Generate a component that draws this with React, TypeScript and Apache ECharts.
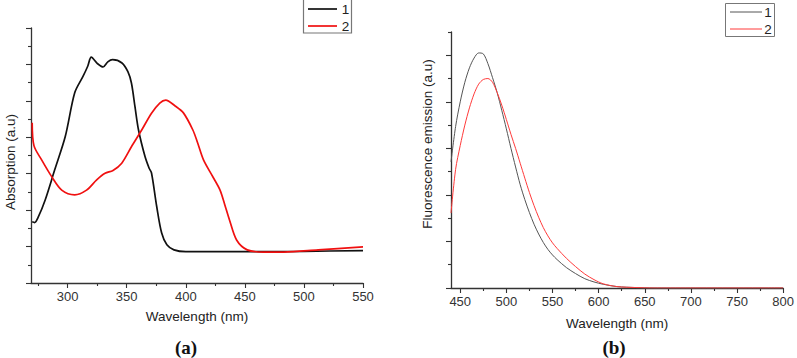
import React, { useEffect, useRef } from "react";
import * as echarts from "echarts";

// (a) absorption spectra
const absWavelength1 = [270, 272, 275, 281, 289, 298, 306, 313, 317, 320, 325, 330, 334, 338, 346, 351, 354, 357, 360, 365.5, 369, 371, 375.4, 379.6, 384, 390, 400, 450, 500, 550];
const absIntensity1 = [1.68, 1.66, 1.8, 2.28, 3.1, 4.02, 5.22, 5.67, 5.95, 6.2, 6.03, 5.93, 6.07, 6.13, 6.04, 5.8, 5.49, 4.84, 4.2, 3.47, 3.15, 3.02, 2.1, 1.37, 1.05, 0.91, 0.86, 0.86, 0.87, 0.89];
const absWavelength2 = [270, 271.5, 278, 286.5, 295, 306, 316, 324.6, 331.7, 338.4, 345.8, 354, 362.7, 371, 378, 383, 391, 398, 406, 410, 415, 423, 429, 433, 437, 443, 452, 466, 483, 512, 550];
const absIntensity2 = [4.4, 3.77, 3.38, 2.92, 2.55, 2.42, 2.55, 2.83, 3.01, 3.09, 3.29, 3.74, 4.2, 4.66, 4.94, 5.02, 4.86, 4.67, 4.2, 3.85, 3.38, 2.91, 2.55, 2.15, 1.73, 1.18, 0.91, 0.85, 0.85, 0.91, 0.99];

// (b) fluorescence emission spectra
const emWavelength1 = [440, 445, 450, 455, 460, 465, 470, 475, 480, 485, 490, 495, 500, 505, 510, 515, 520, 525, 530, 535, 540, 545, 550, 555, 565, 575, 585, 595, 605, 620, 640, 660, 800];
const emIntensity1 = [2.71, 3.47, 4.0, 4.42, 4.73, 4.94, 5.05, 5.03, 4.82, 4.52, 4.2, 3.82, 3.42, 3.0, 2.6, 2.22, 1.9, 1.62, 1.37, 1.16, 0.98, 0.83, 0.71, 0.61, 0.44, 0.31, 0.2, 0.13, 0.08, 0.03, 0.01, 0, 0];
const emWavelength2 = [440, 445, 450, 455, 460, 465, 470, 475, 480, 485, 490, 495, 500, 505, 510, 515, 520, 525, 530, 535, 540, 545, 550, 555, 565, 575, 585, 595, 605, 620, 640, 660, 800];
const emIntensity2 = [1.61, 2.55, 3.06, 3.5, 3.87, 4.17, 4.38, 4.48, 4.5, 4.42, 4.2, 3.93, 3.62, 3.3, 3.0, 2.68, 2.36, 2.05, 1.77, 1.52, 1.3, 1.12, 0.97, 0.85, 0.64, 0.46, 0.3, 0.18, 0.09, 0.03, 0.01, 0, 0];

// tick positions
const absTicks = [300, 350, 400, 450, 500, 550];
const absMinorTicks = [275, 325, 375, 425, 475, 525];
const emTicks = [450, 500, 550, 600, 650, 700, 750, 800];
const emMinorTicks = [475, 525, 575, 625, 675, 725, 775];
const emLevels = [0, 1, 2, 3, 4, 5];
const emMinorLevels = [0.5, 1.5, 2.5, 3.5, 4.5, 5.5];

const seriesNames = ["1", "2"];

const SANS = '"Liberation Sans", Arial, sans-serif';
const SERIF = '"Liberation Serif", "Times New Roman", serif';
const AXIS_COLOR = "#333";
const TEXT_COLOR = "#222";

const zip = (xs: number[], ys: number[]) => xs.map((x, i) => [x, ys[i]]);

function buildOption(): echarts.EChartsOption {
  const axisLine = { show: true, lineStyle: { color: AXIS_COLOR, width: 1.3 } };
  const tickStyle = { color: AXIS_COLOR, width: 1.1 };
  const label = (size: number) => ({ fontSize: size, color: "#333", fontFamily: SANS });

  const xMain = (grid: number, min: number, max: number, ticks: number[], size: number, gap: number) => ({
    type: "value" as const,
    gridIndex: grid,
    position: "bottom" as const,
    min,
    max,
    axisLine,
    axisTick: { show: true, length: 5, customValues: ticks, lineStyle: tickStyle },
    axisLabel: { show: true, customValues: ticks, margin: 7, ...label(size) },
    splitLine: { show: false },
    name: "Wavelength (nm)",
    nameLocation: "middle" as const,
    nameGap: gap,
    nameTextStyle: { fontSize: 13.5, color: TEXT_COLOR, fontFamily: SANS },
  });
  const xMinor = (grid: number, min: number, max: number, ticks: number[]) => ({
    type: "value" as const,
    gridIndex: grid,
    position: "bottom" as const,
    min,
    max,
    axisLine: { show: false },
    axisTick: { show: true, length: 3, customValues: ticks, lineStyle: tickStyle },
    axisLabel: { show: false, customValues: ticks },
    splitLine: { show: false },
  });

  const line = (name: string, xAxisIndex: number, yAxisIndex: number, data: number[][], color: string, width: number) => ({
    type: "line" as const,
    name,
    xAxisIndex,
    yAxisIndex,
    data,
    showSymbol: false,
    symbol: "none",
    smooth: 0.3,
    lineStyle: { color, width },
    itemStyle: { color },
  });

  return {
    animation: false,
    backgroundColor: "#fff",
    grid: [
      { left: 31, top: 28, width: 332, height: 255 },
      { left: 451, top: 32, width: 336, height: 256 },
    ],
    xAxis: [
      xMain(0, 269, 550, absTicks, 13, 26),
      xMinor(0, 269, 550, absMinorTicks),
      xMain(1, 440, 800, emTicks, 13, 28),
      xMinor(1, 440, 800, emMinorTicks),
    ],
    yAxis: [
      {
        type: "value",
        gridIndex: 0,
        position: "left",
        min: 0,
        max: 7,
        interval: 1,
        axisLine,
        axisTick: { show: true, length: 5, lineStyle: tickStyle },
        minorTick: { show: true, splitNumber: 2, length: 3, lineStyle: tickStyle },
        axisLabel: { show: false },
        splitLine: { show: false },
        minorSplitLine: { show: false },
      },
      {
        type: "value",
        gridIndex: 1,
        position: "left",
        min: 0,
        max: 5.5,
        axisLine,
        axisTick: { show: true, length: 5, customValues: emLevels, lineStyle: tickStyle },
        axisLabel: { show: false, customValues: emLevels },
        splitLine: { show: false },
      },
      {
        type: "value",
        gridIndex: 1,
        position: "left",
        min: 0,
        max: 5.5,
        axisLine: { show: false },
        axisTick: { show: true, length: 3, customValues: emMinorLevels, lineStyle: tickStyle },
        axisLabel: { show: false, customValues: emMinorLevels },
        splitLine: { show: false },
      },
    ],
    series: [
      line(seriesNames[0], 0, 0, zip(absWavelength1, absIntensity1), "#111", 1.7),
      line(seriesNames[1], 0, 0, zip(absWavelength2, absIntensity2), "#f01010", 1.7),
      line(seriesNames[0], 2, 1, zip(emWavelength1, emIntensity1), "#555", 1),
      line(seriesNames[1], 2, 1, zip(emWavelength2, emIntensity2), "#ff3a3a", 1),
    ],
    graphic: [
      // y axis titles
      {
        type: "text",
        x: 10,
        y: 162,
        rotation: Math.PI / 2,
        style: { text: "Absorption (a.u)", fontSize: 13.5, fontFamily: SANS, fill: TEXT_COLOR, align: "center", verticalAlign: "middle" },
      },
      {
        type: "text",
        x: 427,
        y: 144,
        rotation: Math.PI / 2,
        style: { text: "Fluorescence emission (a.u)", fontSize: 13.5, fontFamily: SANS, fill: TEXT_COLOR, align: "center", verticalAlign: "middle" },
      },
      // panel captions
      {
        type: "text",
        x: 186,
        y: 347,
        style: { text: "(a)", fontSize: 19, fontWeight: "bold", fontFamily: SERIF, fill: "#111", align: "center", verticalAlign: "middle" },
      },
      {
        type: "text",
        x: 614,
        y: 347,
        style: { text: "(b)", fontSize: 19, fontWeight: "bold", fontFamily: SERIF, fill: "#111", align: "center", verticalAlign: "middle" },
      },
      // legend (a)
      { type: "rect", shape: { x: 303.5, y: -10, width: 48, height: 43 }, style: { fill: "#fff", stroke: "#777", lineWidth: 1.2 }, z: 10 },
      { type: "line", shape: { x1: 308, y1: 9, x2: 337, y2: 9 }, style: { stroke: "#111", lineWidth: 1.7 }, z: 11 },
      { type: "line", shape: { x1: 308, y1: 26, x2: 337, y2: 26 }, style: { stroke: "#f01010", lineWidth: 1.7 }, z: 11 },
      { type: "text", x: 345.5, y: 9, style: { text: seriesNames[0], fontSize: 13.5, fontFamily: SANS, fill: TEXT_COLOR, align: "center", verticalAlign: "middle" }, z: 11 },
      { type: "text", x: 345.5, y: 26, style: { text: seriesNames[1], fontSize: 13.5, fontFamily: SANS, fill: TEXT_COLOR, align: "center", verticalAlign: "middle" }, z: 11 },
      // legend (b)
      { type: "rect", shape: { x: 725.5, y: 3.5, width: 49, height: 33 }, style: { fill: "#fff", stroke: "#777", lineWidth: 1 }, z: 10 },
      { type: "line", shape: { x1: 730, y1: 12, x2: 762, y2: 12 }, style: { stroke: "#555", lineWidth: 1 }, z: 11 },
      { type: "line", shape: { x1: 730, y1: 29, x2: 762, y2: 29 }, style: { stroke: "#ff3a3a", lineWidth: 1 }, z: 11 },
      { type: "text", x: 768, y: 12, style: { text: seriesNames[0], fontSize: 13.5, fontFamily: SANS, fill: TEXT_COLOR, align: "center", verticalAlign: "middle" }, z: 11 },
      { type: "text", x: 768, y: 29, style: { text: seriesNames[1], fontSize: 13.5, fontFamily: SANS, fill: TEXT_COLOR, align: "center", verticalAlign: "middle" }, z: 11 },
    ],
  } as echarts.EChartsOption;
}

export default function App() {
  const ref = useRef<HTMLDivElement>(null);

  useEffect(() => {
    if (!ref.current) return;
    const chart = echarts.init(ref.current, undefined, { renderer: "svg" });
    chart.setOption(buildOption());
    return () => chart.dispose();
  }, []);

  return (
    <div
      ref={ref}
      style={{ position: "fixed", left: 0, top: 0, width: 797, height: 358, background: "#fff" }}
    />
  );
}
